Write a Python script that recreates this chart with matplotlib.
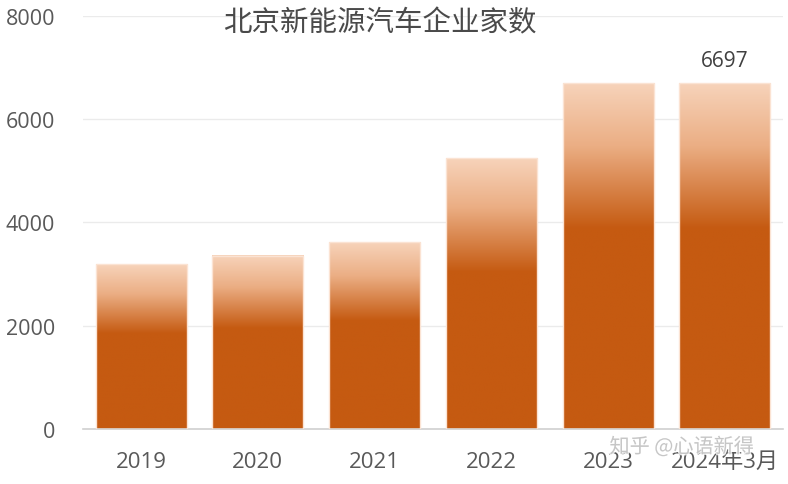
import numpy as np
import matplotlib
matplotlib.use('Agg')
import matplotlib.pyplot as plt
import matplotlib.patheffects as pe
from matplotlib.colors import LinearSegmentedColormap
from matplotlib.patches import Rectangle

plt.rcParams['font.family'] = ['Open Sans', 'Noto Sans CJK SC', 'DejaVu Sans']

TITLE = '北京新能源汽车企业家数'
YEARS = ['2019', '2020', '2021', '2022', '2023', '2024年3月']
COUNTS = [3190, 3360, 3620, 5240, 6697, 6697]
LABELLED = {5: '6697'}
YTICKS = [0, 2000, 4000, 6000, 8000]

# light peach at the bar top, full orange from ~40% down
grad = LinearSegmentedColormap.from_list(
    'bar', [(0.0, '#F7D3BA'), (0.18, '#EBAE84'), (0.42, '#C55A11'), (1.0, '#C55A11')])

fig = plt.figure(figsize=(7.88, 4.85), dpi=100)
ax = fig.add_axes([0.105, 0.1134, 0.889, 0.8516])

width = 0.78
col = np.linspace(0, 1, 256).reshape(-1, 1)
for i, h in enumerate(COUNTS):
    x0 = i - width / 2
    ax.imshow(col, cmap=grad, aspect='auto', origin='upper',
              extent=[x0, x0 + width, 0, h], zorder=2, interpolation='bilinear')
    ax.add_patch(Rectangle((x0, 0), width, h, fill=False,
                           edgecolor='#FBE3D3', linewidth=1.0, zorder=3))
    if i in LABELLED:
        ax.text(i, h + 230, LABELLED[i], ha='center', va='bottom',
                fontsize=15, color='#404040')

ax.set_xlim(-0.5, len(YEARS) - 0.5)
ax.set_ylim(0, 8000)
ax.set_xticks(range(len(YEARS)))
ax.set_xticklabels(YEARS, fontsize=16, color='#595959')
ax.set_yticks(YTICKS)
ax.set_yticklabels([str(v) for v in YTICKS], fontsize=15.5, color='#595959')
ax.tick_params(axis='both', length=0)
ax.tick_params(axis='x', pad=16)
ax.tick_params(axis='y', pad=20)
for v in YTICKS[1:]:
    ax.axhline(v, color='#EBEBEB', linewidth=1.0, zorder=1)
for s in ['top', 'right', 'left']:
    ax.spines[s].set_visible(False)
ax.spines['bottom'].set_color('#D0D0D0')
ax.spines['bottom'].set_linewidth(1.2)

fig.text(0.482, 0.952, TITLE, ha='center', va='center', fontsize=20.5,
         color='#4A4A4A', family=['Noto Sans CJK SC', 'DejaVu Sans'])
fig.text(0.865, 0.076, '知乎 @心语新得', ha='center', va='center', fontsize=14.5,
         color='#BBBBBB', alpha=0.8, family=['Noto Sans CJK SC', 'DejaVu Sans'],
         zorder=10, path_effects=[pe.withStroke(linewidth=2, foreground='white')])

fig.savefig('out.png', dpi=100)
